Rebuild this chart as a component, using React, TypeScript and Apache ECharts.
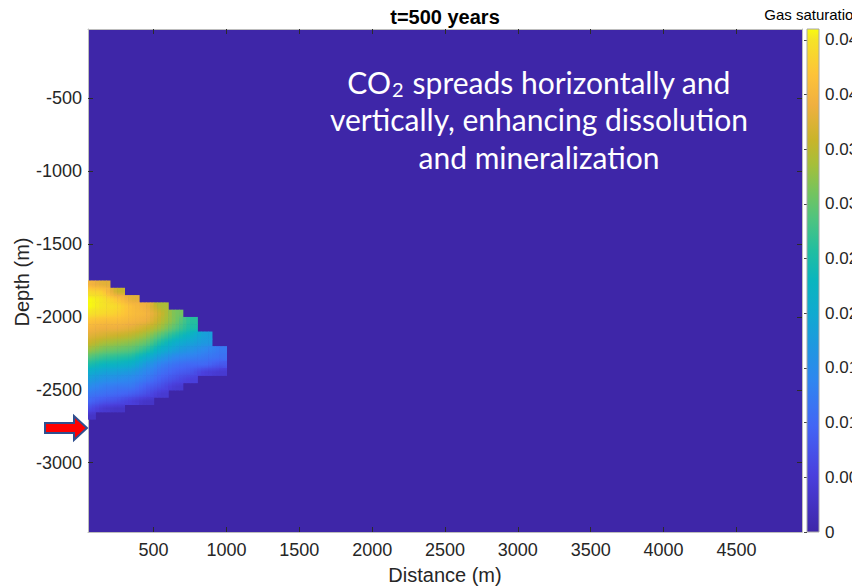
import React, { useEffect, useRef } from 'react';
import * as echarts from 'echarts';

// ---------- data ----------
const distanceCentres = [50, 150, 250, 350, 450, 550, 650, 750, 850, 950];
const depthCentres = [
  -1775, -1825, -1875, -1925, -1975, -2025, -2075, -2125, -2175, -2225,
  -2275, -2325, -2375, -2425, -2475, -2525, -2575, -2625, -2675,
];
// gas saturation, one row per depth, one column per distance
const saturation = [
  [0.040, 0.038, 0, 0, 0, 0, 0, 0, 0, 0],
  [0.044, 0.043, 0.036, 0, 0, 0, 0, 0, 0, 0],
  [0.046, 0.045, 0.042, 0.038, 0, 0, 0, 0, 0, 0],
  [0.046, 0.045, 0.044, 0.041, 0.039, 0.034, 0, 0, 0, 0],
  [0.045, 0.044, 0.043, 0.041, 0.040, 0.036, 0.031, 0, 0, 0],
  [0.042, 0.041, 0.041, 0.040, 0.039, 0.035, 0.031, 0.026, 0, 0],
  [0.040, 0.039, 0.039, 0.038, 0.036, 0.033, 0.029, 0.025, 0, 0],
  [0.038, 0.037, 0.036, 0.035, 0.033, 0.029, 0.025, 0.022, 0.018, 0],
  [0.036, 0.034, 0.033, 0.032, 0.030, 0.025, 0.021, 0.019, 0.017, 0],
  [0.033, 0.031, 0.030, 0.029, 0.026, 0.021, 0.018, 0.016, 0.014, 0.012],
  [0.029, 0.027, 0.026, 0.025, 0.021, 0.017, 0.014, 0.013, 0.012, 0.011],
  [0.025, 0.023, 0.022, 0.021, 0.017, 0.013, 0.011, 0.010, 0.010, 0.008],
  [0.021, 0.019, 0.018, 0.017, 0.014, 0.011, 0.009, 0.008, 0.005, 0.004],
  [0.018, 0.016, 0.015, 0.014, 0.012, 0.009, 0.007, 0.005, 0, 0],
  [0.015, 0.013, 0.012, 0.012, 0.009, 0.007, 0.004, 0, 0, 0],
  [0.012, 0.011, 0.010, 0.009, 0.007, 0.004, 0, 0, 0, 0],
  [0.010, 0.008, 0.007, 0.005, 0.003, 0, 0, 0, 0, 0],
  [0.007, 0.004, 0.003, 0, 0, 0, 0, 0, 0, 0],
  [0.003, 0, 0, 0, 0, 0, 0, 0, 0, 0],
];
const xTicks = [500, 1000, 1500, 2000, 2500, 3000, 3500, 4000, 4500];
const yTicks = [-3000, -2500, -2000, -1500, -1000, -500];
const cbarTicks = [0, 0.005, 0.01, 0.015, 0.02, 0.025, 0.03, 0.035, 0.04, 0.045];
const cbarLabels = ['0', '0.005', '0.01', '0.015', '0.02', '0.025', '0.03', '0.035', '0.04', '0.045'];
const SAT_MAX = 0.046;
const X_MIN = 50;
const X_MAX = 4950;
const Z_MIN = -3475;
const Z_MAX = -25;
const CELL_DX = 100;
const CELL_DZ = 50;

// parula-like colormap
const parulaStops: [number, string][] = [
  [0, '#3E26A8'],
  [0.115, '#4A40DE'],
  [0.21, '#4365F5'],
  [0.30, '#2F86F0'],
  [0.37, '#1E98E0'],
  [0.435, '#10AAD0'],
  [0.50, '#0AB5BE'],
  [0.56, '#22BEA0'],
  [0.625, '#50C47E'],
  [0.675, '#75C45E'],
  [0.73, '#A5BF3A'],
  [0.78, '#C9B42A'],
  [0.85, '#F0B040'],
  [0.91, '#FDC338'],
  [0.98, '#F5E426'],
  [1, '#F9FB0E'],
];

function hexToRgb(h: string) {
  return [parseInt(h.slice(1, 3), 16), parseInt(h.slice(3, 5), 16), parseInt(h.slice(5, 7), 16)];
}
function colour(v: number) {
  const f = Math.max(0, Math.min(1, v / SAT_MAX));
  for (let i = 1; i < parulaStops.length; i++) {
    const [o1, c1] = parulaStops[i];
    const [o0, c0] = parulaStops[i - 1];
    if (f <= o1) {
      const t = (f - o0) / (o1 - o0);
      const a = hexToRgb(c0);
      const b = hexToRgb(c1);
      const m = a.map((x, k) => Math.round(x + (b[k] - x) * t));
      return `rgb(${m[0]},${m[1]},${m[2]})`;
    }
  }
  return parulaStops[parulaStops.length - 1][1];
}

function val(r: number, c: number) {
  const row = saturation[r];
  if (!row) return 0;
  return row[c] || 0;
}
// smooth shading within a cell (like MATLAB "shading interp"), keeping plume edges sharp
function sample(r: number, c: number, du: number, dv: number) {
  const a = val(r, c);
  const cx = du < 0 ? c - 1 : c + 1;
  const ry = dv < 0 ? r - 1 : r + 1;
  const pick = (v: number) => (v > 0 ? v : a);
  const b = pick(val(r, cx));
  const d = pick(val(ry, c));
  const e = pick(val(ry, cx));
  const ax = Math.abs(du);
  const ay = Math.abs(dv);
  return a * (1 - ax) * (1 - ay) + b * ax * (1 - ay) + d * (1 - ax) * ay + e * ax * ay;
}

const FONT = 'Liberation Sans';

export default function App() {
  const ref = useRef<HTMLDivElement>(null);
  useEffect(() => {
    if (!ref.current) return;
    const chart = echarts.init(ref.current, undefined, { renderer: 'svg' });

    const cells: number[][] = [];
    depthCentres.forEach((z, r) => {
      distanceCentres.forEach((x, c) => {
        const v = saturation[r][c];
        if (v > 0) cells.push([x, z, v, r, c]);
      });
    });

    const tickStyle = { inside: true, length: 5, lineStyle: { color: '#2b2b2b', width: 1 } };
    const lineStyle = { show: true, onZero: false, lineStyle: { color: '#bdbdbd', width: 1 } };

    const option: any = {
      animation: false,
      backgroundColor: '#ffffff',
      grid: [
        {
          left: 88, top: 29, width: 714, height: 503, show: true, backgroundColor: '#3E26A8', borderWidth: 0,
          containLabel: false, outerBoundsMode: 'none',
        },
        { left: 807, top: 29, width: 12, height: 503, show: false, containLabel: false, outerBoundsMode: 'none' },
      ],
      xAxis: [
        {
          type: 'value', gridIndex: 0, min: X_MIN, max: X_MAX, position: 'bottom',
          axisLine: lineStyle,
          axisTick: { ...tickStyle, customValues: xTicks },
          axisLabel: { customValues: xTicks, fontSize: 18, color: '#262626', fontFamily: FONT, margin: 9, formatter: (v: number) => String(v) },
          splitLine: { show: false },
          name: 'Distance (m)', nameLocation: 'middle', nameGap: 33,
          nameTextStyle: { fontSize: 20, color: '#262626', fontFamily: FONT },
        },
        {
          type: 'value', gridIndex: 0, min: X_MIN, max: X_MAX, position: 'top',
          axisLine: lineStyle,
          axisTick: { ...tickStyle, customValues: xTicks },
          axisLabel: { show: false },
          splitLine: { show: false },
        },
        {
          type: 'value', gridIndex: 1, min: 0, max: 1, show: false,
        },
      ],
      yAxis: [
        {
          type: 'value', gridIndex: 0, min: Z_MIN, max: Z_MAX, position: 'left',
          axisLine: lineStyle,
          axisTick: { ...tickStyle, customValues: yTicks },
          axisLabel: { customValues: yTicks, fontSize: 18, color: '#262626', fontFamily: FONT, margin: 6, formatter: (v: number) => String(v) },
          splitLine: { show: false },
        },
        {
          type: 'value', gridIndex: 0, min: Z_MIN, max: Z_MAX, position: 'right',
          axisLine: lineStyle,
          axisTick: { ...tickStyle, customValues: yTicks },
          axisLabel: { show: false },
          splitLine: { show: false },
        },
        {
          type: 'value', gridIndex: 1, min: 0, max: SAT_MAX, position: 'right',
          axisLine: { show: false },
          axisTick: { inside: true, length: 3, customValues: cbarTicks, lineStyle: { color: '#444' } },
          axisLabel: {
            customValues: cbarTicks, fontSize: 17, color: '#262626', fontFamily: FONT, margin: 6,
            formatter: (v: number) => {
              const i = cbarTicks.findIndex((t) => Math.abs(t - v) < 1e-9);
              return i >= 0 ? cbarLabels[i] : String(v);
            },
          },
          splitLine: { show: false },
        },
      ],
      series: [
        {
          type: 'custom',
          xAxisIndex: 0,
          yAxisIndex: 0,
          clip: true,
          data: cells,
          encode: { x: 0, y: 1 },
          renderItem: (params: any, api: any) => {
            const x = api.value(0);
            const z = api.value(1);
            const r = api.value(3);
            const c = api.value(4);
            const p = api.coord([x, z]);
            const s = api.size([CELL_DX, CELL_DZ]);
            const w = s[0];
            const h = s[1];
            const left = p[0] - w / 2;
            const top = p[1] - h / 2;
            const N = 4;
            const children: any[] = [];
            for (let k = 0; k < N; k++) {
              const du = (k + 0.5) / N - 0.5;
              const tv = sample(r, c, du, -0.5);
              const mv = sample(r, c, du, 0);
              const bv = sample(r, c, du, 0.5);
              children.push({
                type: 'rect',
                shape: { x: left + (k * w) / N, y: top, width: w / N + 0.6, height: h + 0.6 },
                style: {
                  fill: new echarts.graphic.LinearGradient(0, 0, 0, 1, [
                    { offset: 0, color: colour(tv) },
                    { offset: 0.5, color: colour(mv) },
                    { offset: 1, color: colour(bv) },
                  ]),
                },
              });
            }
            return { type: 'group', children };
          },
        },
        {
          type: 'custom',
          xAxisIndex: 2,
          yAxisIndex: 2,
          clip: false,
          data: [[0, 0]],
          renderItem: (params: any, api: any) => {
            const p0 = api.coord([0, SAT_MAX]);
            const p1 = api.coord([1, 0]);
            return {
              type: 'rect',
              shape: { x: p0[0], y: p0[1], width: p1[0] - p0[0], height: p1[1] - p0[1] },
              style: {
                fill: new echarts.graphic.LinearGradient(0, 1, 0, 0,
                  parulaStops.map(([o, col]) => ({ offset: o, color: col }))),
                stroke: '#a8a8a8',
                lineWidth: 1,
              },
            };
          },
        },
      ],
      graphic: [
        {
          type: 'text', x: 445, y: 17, z: 10,
          style: { text: 't=500 years', fontSize: 20, fontWeight: 'bold', fontFamily: FONT, fill: '#000', align: 'center', verticalAlign: 'middle' },
        },
        {
          type: 'text', x: 22, y: 282, z: 10, rotation: Math.PI / 2,
          style: { text: 'Depth (m)', fontSize: 20, fontFamily: FONT, fill: '#262626', align: 'center', verticalAlign: 'middle' },
        },
        {
          type: 'text', x: 813, y: 14, z: 10,
          style: { text: 'Gas saturation', fontSize: 15, fontFamily: FONT, fill: '#000', align: 'center', verticalAlign: 'middle' },
        },
        {
          type: 'text', x: 539, y: 82, z: 10,
          style: {
            text: '{a|CO}{b|2}{a| spreads horizontally and}',
            align: 'center', verticalAlign: 'middle',
            rich: {
              a: { fontSize: 30, fontFamily: 'Lato', fill: '#ffffff' },
              b: { fontSize: 20, fontFamily: 'Lato', fill: '#ffffff', padding: [13, 1, 0, 1] },
            },
          },
        },
        {
          type: 'text', x: 539, y: 119, z: 10,
          style: { text: 'vertically, enhancing dissolution', fontSize: 30, fontFamily: 'Lato', fill: '#ffffff', align: 'center', verticalAlign: 'middle' },
        },
        {
          type: 'text', x: 539, y: 157, z: 10,
          style: { text: 'and mineralization', fontSize: 30, fontFamily: 'Lato', fill: '#ffffff', align: 'center', verticalAlign: 'middle' },
        },
        {
          type: 'polygon', z: 10,
          shape: { points: [[45, 423], [74, 423], [74, 416], [87, 428], [74, 440], [74, 433], [45, 433]] },
          style: { fill: '#ff0000', stroke: '#2F4F8F', lineWidth: 2 },
        },
      ],
    };

    chart.setOption(option);
    return () => chart.dispose();
  }, []);

  return <div ref={ref} style={{ position: 'fixed', left: 0, top: 0, width: 852, height: 587 }} />;
}
